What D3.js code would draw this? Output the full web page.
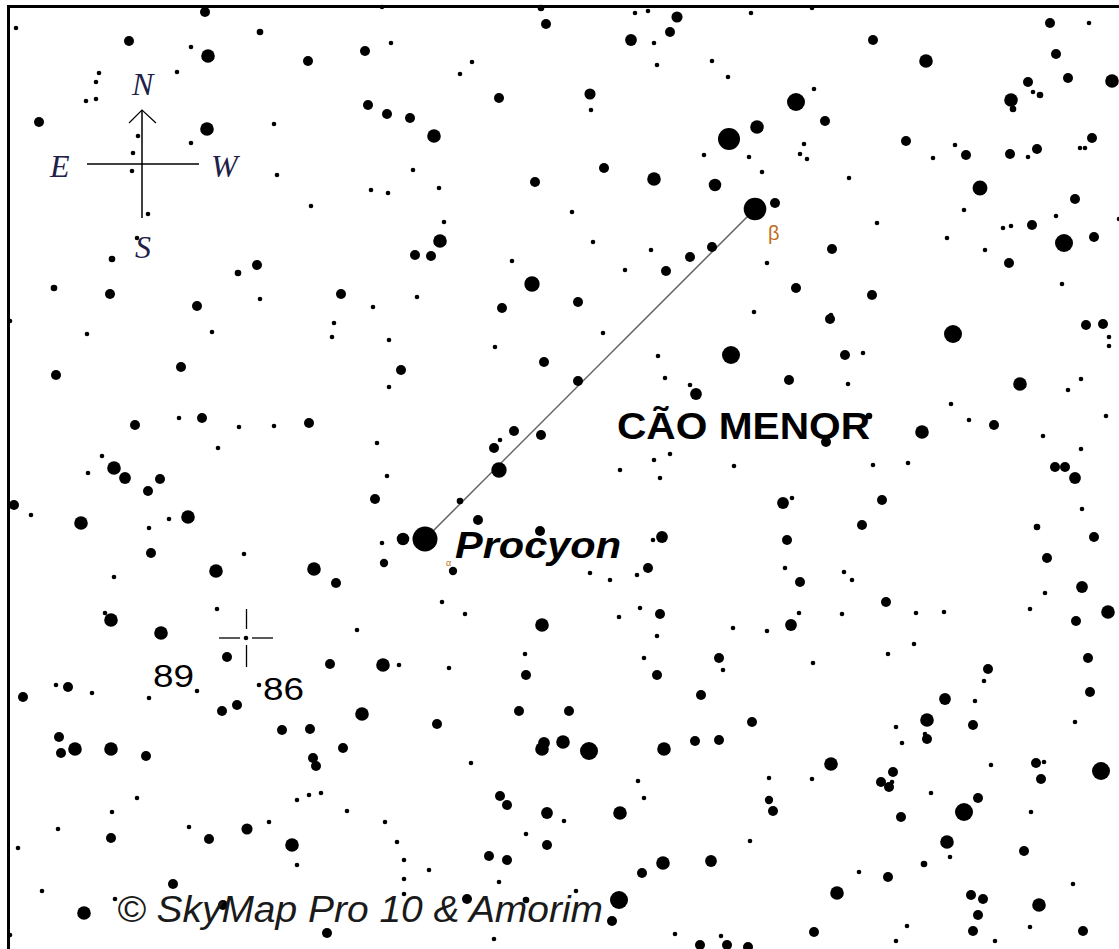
<!DOCTYPE html>
<html>
<head>
<meta charset="utf-8">
<script src="https://cdn.jsdelivr.net/npm/d3@7"></script>
<style>
  body { margin: 0; background: #fff; }
  svg { display: block; }
</style>
</head>
<body>
<script>
////////////////
// Star data
////////////////

// Field stars: [x, y, magnitude class] in map units (0..1119, 0..949)
var fieldStars = [
  // north-east
  [16,28,6],[129,41,4],[205,12,4],[260,32,5],[191,47,6],[208,56,3],[99,73,6],[96,82,6],[86,101,6],[96,99,6],
  [177,72,6],[39,122,4],[207,129,3],[274,124,6],[138,136,6],[191,143,6],[133,153,6],[132,171,6],[277,175,6],
  [148,214,6],[137,238,6],[112,259,5],[257,265,4],[238,273,5],[54,288,5],[110,294,4],[197,306,4],[260,299,6],
  [382,7,6],[541,8,5],[546,24,4],[391,43,6],[365,51,4],[308,61,4],[472,62,6],[460,74,6],[499,98,4],[368,105,4],
  [387,114,4],[410,118,4],[434,136,3],[413,170,6],[535,182,4],[371,190,6],[388,193,6],[439,188,6],[311,206,6],
  [444,222,6],[440,241,3],[415,255,4],[431,256,4],[512,261,6],[532,284,2.6],[341,294,4],[417,297,6],[373,307,6],
  [502,308,4],
  // north-west
  [635,13,6],[648,11,6],[677,17,3.7],[751,13,6],[812,8,6],[631,40,3.5],[654,43,6],[670,32,4],[657,65,6],[712,61,6],
  [728,77,6],[590,94,3.7],[591,110,6],[796,102,2],[814,89,6],[825,121,4],[757,127,3],[729,139,1],[704,155,6],
  [749,157,6],[762,172,6],[804,144,6],[800,154,6],[807,159,6],[604,168,4],[654,179,3],[715,185,3.3],[775,203,4],
  [572,212,6],[593,242,6],[651,250,6],[712,247,4],[690,257,4],[666,271,4],[625,270,6],[832,249,4],[767,263,6],
  [796,288,4],[578,302,4],[754,312,6],[831,315,6],
  [1050,23,4],[1089,23,6],[873,40,4],[926,61,3],[1056,54,4],[1028,82,4],[1068,78,4],[1112,81,3],[1033,92,6],
  [1040,95,5],[1011,100,3],[1013,109,5],[906,141,4],[955,145,6],[933,158,6],[966,155,4],[1010,154,4],[1028,157,6],
  [1037,149,4],[1092,138,4],[1080,148,6],[1085,148,6],[849,178,6],[980,188,2.7],[1075,199,4],[964,210,6],[877,223,6],
  [1056,216,6],[1003,228,6],[1011,226,6],[1032,225,4],[947,238,6],[1064,243,2],[1094,237,4],[1119,219,6],[985,250,6],
  [1009,263,4],[1062,284,6],[872,295,4],
  // middle
  [10,321,6],[87,334,6],[212,332,6],[181,367,4],[56,375,4],[135,425,4],[179,418,6],[202,418,4],[239,427,6],
  [274,426,6],[218,448,6],[102,456,6],[114,468,3],[125,478,3.5],[88,473,6],[160,479,4],[148,491,4],[14,505,4],
  [31,515,6],[81,523,3],[188,517,3],[169,519,6],[149,528,6],[151,553,4],[244,554,6],[216,571,3],[114,577,6],
  [105,613,6],[111,620,3],[217,609,6],[161,633,3],
  [334,323,6],[332,337,6],[389,340,6],[495,347,6],[544,362,4],[401,370,4],[389,387,6],[309,423,4],[377,443,6],
  [514,431,4],[500,440,6],[494,448,4],[541,435,4],[499,470,2.6],[387,476,6],[460,501,5],[375,499,4],[478,520,4],
  [540,531,4],[403,539,3.3],[382,543,6],[453,571,4.5],[384,563,4.5],[314,569,3],[336,583,4],[442,602,6],
  [465,614,6],[357,630,6],[542,625,3],
  [603,333,6],[658,356,6],[731,355,2],[830,319,4],[665,378,6],[789,380,4],[690,385,6],[696,394,3.5],[578,381,4],
  [826,442,4],[654,460,6],[670,454,6],[620,470,6],[660,478,6],[734,466,6],[783,503,3.5],[792,498,6],[662,537,3.5],
  [653,540,6],[787,540,4],[648,568,4],[637,575,6],[610,580,6],[590,573,6],[785,568,6],[800,582,4],[799,613,6],
  [640,608,6],[660,614,4],[619,617,6],[733,628,6],[791,625,3.5],[767,631,6],
  [1086,325,4],[1103,324,4],[1109,337,6],[1109,346,6],[953,334,2],[845,355,4],[863,353,6],[848,384,6],[1020,384,3],
  [1081,379,6],[1068,390,6],[951,404,6],[869,416,5],[969,420,6],[994,425,4],[922,432,3],[1043,436,6],[1106,416,6],
  [1081,449,6],[873,465,6],[908,463,6],[1055,467,4],[1065,467,4],[1075,478,3.5],[882,500,4],[1082,509,6],
  [862,525,4],[1037,527,5],[1094,537,4],[1047,558,4],[844,572,6],[852,580,6],[886,602,4],[1082,587,3.5],
  [1045,593,6],[1030,609,6],[842,614,6],[916,613,6],[944,612,6],[1108,612,3],[1076,621,4],
  // south
  [227,657,4],[246,638,6],[56,685,6],[68,687,4],[23,697,4],[92,693,6],[149,698,6],[197,691,6],[259,685,6],
  [222,711,4],[237,705,4],[282,730,4],[59,737,4],[75,749,3],[61,753,4],[111,749,3],[146,756,4],[137,798,6],
  [112,812,6],[58,829,6],[111,838,4],[189,827,6],[209,839,4],[247,829,3.7],[269,822,6],[18,848,6],[173,884,4],
  [42,891,6],[84,913,3],[115,899,6],[223,905,4],[10,935,6],
  [330,664,4],[383,665,3],[399,665,6],[449,668,6],[525,654,6],[526,675,4],[362,714,3],[437,724,4],[519,711,4],
  [310,729,4],[343,748,4],[313,758,4],[316,766,4],[471,763,6],[542,749,3],[544,743,3.5],[297,800,6],[309,795,6],
  [321,793,6],[500,796,4],[507,805,4],[547,813,3.5],[347,811,6],[385,822,6],[292,845,3],[297,865,6],[397,842,6],
  [526,834,6],[547,845,4],[489,856,4],[507,860,4],[404,860,6],[429,870,6],[404,879,6],[499,882,6],[467,899,4],
  [526,900,5],[404,894,6],[327,933,4],[494,939,6],
  [657,636,6],[644,658,6],[719,658,4],[723,670,6],[657,675,4],[813,663,6],[701,695,4],[569,711,4],[752,722,4],
  [563,742,3],[589,751,2],[664,749,3],[695,741,4],[719,740,4],[831,764,3],[638,781,6],[644,798,6],[769,778,6],
  [812,779,6],[769,800,4.5],[773,811,4],[620,813,3],[564,821,6],[750,841,6],[642,873,4],[663,863,3],[711,861,3.5],
  [619,900,2],[612,921,4],[576,891,6],[675,934,6],[700,945,4],[727,945,4],[748,947,4],[721,936,6],[814,932,4],
  [837,893,3],
  [914,644,6],[888,654,6],[1088,658,4],[988,669,4],[984,681,6],[1090,692,4],[945,699,3.5],[975,701,6],[927,720,3],
  [973,725,4],[896,727,6],[1075,722,6],[927,739,4],[925,734,6],[902,743,6],[991,765,6],[1036,763,4],[1044,762,6],
  [1101,771,2],[1041,779,4],[893,772,4],[881,782,4],[889,787,4],[892,782,6],[931,793,6],[978,798,4],[964,812,2],
  [1031,812,6],[901,817,4],[947,842,3],[950,857,6],[1024,851,4],[924,864,5],[859,872,6],[888,877,4],[1073,884,6],
  [971,895,4],[983,899,4],[978,915,4],[1039,905,3],[907,926,6],[973,931,4],[1030,927,6],[1083,931,4],[896,941,6],
  [995,941,6]
];

// Named stars of Canis Minor
var namedStars = [
  {name: "Procyon", greek: "α", x: 425, y: 539, mag: 0},
  {name: "Gomeisa", greek: "β", x: 755, y: 209, mag: 0.8}
];

// Constellation figure
var figure = [["Procyon", "Gomeisa"]];

// Text labels
var constellationName = "CÃO MENOR";
var copyright = "© SkyMap Pro 10 & Amorim";
var flamsteed = [{label: "89"}, {label: "86"}];
var compass = ["N", "E", "W", "S"];

////////////////
// Make display!
////////////////

var w = 1119, h = 949;

var x = d3.scaleLinear().domain([0, 1119]).range([0, w]);
var y = d3.scaleLinear().domain([0, 949]).range([0, h]);

// magnitude class -> radius
var r = d3.scaleLinear()
    .domain([0, 1, 2, 3, 4, 5, 6])
    .range([12.5, 11, 9, 6.8, 5, 3.3, 2.3]);

var svg = d3.select("body").append("svg")
    .attr("width", w)
    .attr("height", h)
    .style("background", "#fff");

var byName = {};
namedStars.forEach(function(d) { byName[d.name] = d; });

// constellation line
svg.selectAll("line.figure")
    .data(figure)
  .enter().append("line")
    .attr("class", "figure")
    .attr("x1", function(d) { return x(byName[d[0]].x); })
    .attr("y1", function(d) { return y(byName[d[0]].y); })
    .attr("x2", function(d) { return x(byName[d[1]].x); })
    .attr("y2", function(d) { return y(byName[d[1]].y); })
    .attr("stroke", "#666")
    .attr("stroke-width", 1.5);

// field stars
svg.selectAll("circle.star")
    .data(fieldStars)
  .enter().append("circle")
    .attr("class", "star")
    .attr("cx", function(d) { return x(d[0]); })
    .attr("cy", function(d) { return y(d[1]); })
    .attr("r", function(d) { return r(d[2]); })
    .attr("fill", "#000");

svg.selectAll("circle.named")
    .data(namedStars)
  .enter().append("circle")
    .attr("class", "named")
    .attr("cx", function(d) { return x(d.x); })
    .attr("cy", function(d) { return y(d.y); })
    .attr("r", function(d) { return r(d.mag); })
    .attr("fill", "#000");

// greek letters
svg.append("text")
    .attr("x", x(768)).attr("y", y(240))
    .attr("font-family", "Liberation Sans, Arial, sans-serif")
    .attr("font-size", 20)
    .attr("fill", "#c07020")
    .text(byName["Gomeisa"].greek);

svg.append("text")
    .attr("x", x(446)).attr("y", y(566))
    .attr("font-family", "Liberation Sans, Arial, sans-serif")
    .attr("font-size", 9)
    .attr("fill", "#c07020")
    .text(byName["Procyon"].greek);

// labels
svg.append("text")
    .attr("x", x(617)).attr("y", y(439))
    .attr("font-family", "Liberation Sans, Arial, sans-serif")
    .attr("font-weight", "bold")
    .attr("font-size", 36)
    .attr("textLength", 253)
    .attr("lengthAdjust", "spacingAndGlyphs")
    .text(constellationName);

svg.append("text")
    .attr("x", x(455)).attr("y", y(558))
    .attr("font-family", "Liberation Sans, Arial, sans-serif")
    .attr("font-weight", "bold")
    .attr("font-style", "italic")
    .attr("font-size", 37)
    .attr("textLength", 166)
    .attr("lengthAdjust", "spacingAndGlyphs")
    .text(byName["Procyon"].name);

var flamPos = [[153, 687], [263, 700]];
svg.selectAll("text.flam")
    .data(flamsteed)
  .enter().append("text")
    .attr("class", "flam")
    .attr("x", function(d, i) { return x(flamPos[i][0]); })
    .attr("y", function(d, i) { return y(flamPos[i][1]); })
    .attr("font-family", "Liberation Sans, Arial, sans-serif")
    .attr("font-size", 32)
    .attr("textLength", 41)
    .attr("lengthAdjust", "spacingAndGlyphs")
    .text(function(d) { return d.label; });

svg.append("text")
    .attr("x", x(117)).attr("y", y(922))
    .attr("font-family", "Liberation Sans, Arial, sans-serif")
    .attr("font-style", "italic")
    .attr("font-size", 37)
    .attr("fill", "#1a1a1a")
    .attr("textLength", 486)
    .attr("lengthAdjust", "spacingAndGlyphs")
    .text(copyright);

// compass rose
var cx0 = 142, cy0 = 164;
var g = svg.append("g").attr("stroke", "#000").attr("stroke-width", 1.5).attr("fill", "none");
g.append("line").attr("x1", cx0).attr("y1", 110).attr("x2", cx0).attr("y2", 218);
g.append("line").attr("x1", 87).attr("y1", cy0).attr("x2", 199).attr("y2", cy0);
g.append("path").attr("d", "M129,123L" + cx0 + ",110L156,123").attr("stroke-width", 1.2);

var compassPos = {N: [132, 95], E: [50, 177], W: [211, 177], S: [135, 258]};
svg.selectAll("text.compass")
    .data(compass)
  .enter().append("text")
    .attr("class", "compass")
    .attr("x", function(d) { return compassPos[d][0]; })
    .attr("y", function(d) { return compassPos[d][1]; })
    .attr("font-family", "Liberation Serif, Times New Roman, serif")
    .attr("font-style", "italic")
    .attr("font-size", 32)
    .attr("fill", "#202048")
    .text(function(d) { return d; });

// crosshair marker
var ch = svg.append("g").attr("stroke", "#000").attr("stroke-width", 1.3);
ch.append("line").attr("x1", 219).attr("y1", 638).attr("x2", 240).attr("y2", 638);
ch.append("line").attr("x1", 252).attr("y1", 638).attr("x2", 273).attr("y2", 638);
ch.append("line").attr("x1", 246.5).attr("y1", 609).attr("x2", 246.5).attr("y2", 629);
ch.append("line").attr("x1", 246.5).attr("y1", 645).attr("x2", 246.5).attr("y2", 667);

// frame
svg.append("path")
    .attr("d", "M8.5," + h + "V6.5H" + w)
    .attr("fill", "none")
    .attr("stroke", "#000")
    .attr("stroke-width", 3);
</script>
</body>
</html>
